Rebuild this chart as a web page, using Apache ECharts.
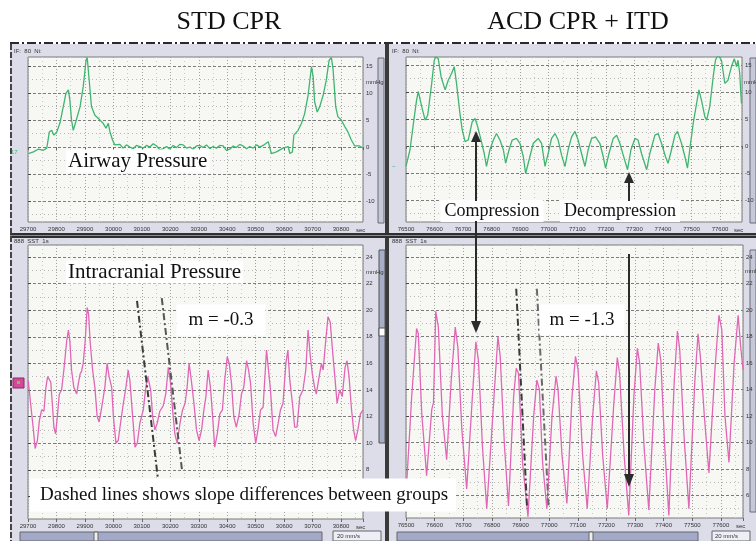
<!DOCTYPE html>
<html><head><meta charset="utf-8">
<script src="https://cdn.jsdelivr.net/npm/echarts@6/dist/echarts.min.js"></script>
<style>html,body{margin:0;padding:0;background:#fff}#c{width:756px;height:541px}</style>
</head><body><div id="c"></div><script>
// ---------- data ----------
const panelTitles = ['STD CPR', 'ACD CPR + ITD'];
const timeLabelsStd = ['29700','29800','29900','30000','30100','30200','30300','30400','30500','30600','30700','30800'];
const timeLabelsAcd = ['76500','76600','76700','76800','76900','77000','77100','77200','77300','77400','77500','77600'];
const airwayTicks = [15,10,5,0,-5,-10];
const airwayMinor = [12.5,7.5,2.5,-2.5,-7.5,-12.5];
const icpTicks = [24,22,20,18,16,14,12,10,8,6];
const icpMinor = [23,21,19,17,15,13,11,9,7,5];

// Airway pressure, STD CPR
const apStdT = [1,19,36,54,66,75,83,91,101,112,124,133,142,147,153,159,168,183,194,204,208,215,223,235,253,264,274,282,288,297,305,
  311,323,334,346,358,370,381,393,405,416,428,440,452,463,475,487,498,510,522,533,545,557,569,580,592,604,615,627,639,650,662,674,686,697,709,721,732,744,756,768,779,791,803,814,826,
  844,855,873,896,914,920,929,934,949,961,972,984,996,1002,1007,1016,1025,1037,1048,1058,1066,1072,1081,1089,1101,1113,1124,1136,1148,1165,1177];
const apStdV = [-1.2,-0.9,-0.4,-0.6,-0.2,2.8,3.1,2.2,2.8,4.4,7.5,9.9,10.6,8.7,5.0,3.1,4.7,7.5,11.2,16.1,16.6,12.4,7.5,5.9,5.0,4.4,3.5,4.4,2.8,1.3,0.4,
  0.2,0.5,-0.2,0.4,0.0,-0.3,0.3,0.1,-0.2,0.3,0.0,0.6,0.2,-0.5,-0.3,0.1,-0.4,0.3,-0.1,0.5,0.4,-0.2,0.0,-0.4,0.2,0.3,-0.1,0.4,-0.3,0.1,-0.2,0.3,0.2,-0.6,-0.4,0.2,-0.1,0.5,0.2,-0.3,0.1,-0.2,0.4,0.0,0.3,
  1.0,-1.2,-0.9,-0.2,0.1,-1.2,-0.9,2.2,3.1,4.4,6.2,9.6,14.9,13.0,8.4,6.5,7.5,9.6,12.4,16.1,16.6,14.3,7.5,5.6,5.0,3.8,2.8,1.3,0.2,0.2,-0.2];

// Airway pressure, ACD CPR + ITD
const apAcdT = [0,14,26,37,43,55,67,76,90,99,104,113,123,137,148,160,169,177,189,197,207,218,232,242,251,263,274,282,294,306,
  317,329,341,349,361,372,387,399,411,419,431,446,463,475,487,498,510,522,533,545,557,568,580,592,603,615,627,638,650,664,
  679,691,699,711,726,738,749,761,776,788,802,813,825,843,854,872,883,895,909,918,930,942,951,965,977,986,994,1006,1018,1026,
  1035,1047,1053,1064,1076,1084,1093,1105,1117,1128,1140,1150,1158,1163,1169,1175];
const apAcdV = [-3.8,-0.7,4.2,8.5,10.1,7.3,4.8,5.7,11.6,15.9,16.5,16.2,12.8,10.4,12.2,13.5,14.7,11.6,6.0,3.0,
  0.8,1.1,4.5,5.1,3.6,1.1,-1.4,-3.8,-0.7,1.1,2.3,1.1,-0.7,-3.2,-0.7,1.1,1.4,0.5,-2.0,-5.1,
  -2.6,0.5,1.4,0.5,-3.8,-1.4,1.4,2.3,1.1,-1.7,-3.8,-0.7,1.7,2.7,1.1,-1.4,-3.8,-0.7,1.4,1.7,
  0.5,-2.0,-4.1,-1.4,1.4,2.0,0.5,-1.7,-4.4,-0.7,1.4,1.1,-1.4,-4.4,-1.4,2.0,2.3,0.5,-2.0,-3.2,
  -0.7,2.0,2.7,0.5,-2.0,-4.1,-0.7,4.2,7.9,10.4,8.5,5.4,4.8,7.3,12.8,15.9,16.9,15.9,11.6,12.2,
  14.7,16.2,14.7,15.9,13.5,7.9];

// Intracranial pressure, STD CPR
const icpStdT = [1,9,19,25,33,40,48,56,63,69,75,80,87,91,97,103,110,118,126,136,142,147,153,161,171,177,183,188,194,201,
  208,213,218,227,235,243,250,259,270,278,285,294,300,309,317,325,335,344,352,358,367,376,384,393,405,414,421,431,438,446,
  454,463,475,484,493,501,508,516,524,534,543,552,559,566,574,583,592,601,610,618,625,633,641,648,656,665,674,683,691,700,
  707,715,723,732,742,750,758,768,775,782,791,800,808,817,826,838,845,852,861,870,879,887,896,906,913,920,929,937,945,955,
  966,976,984,992,999,1007,1013,1023,1031,1037,1046,1054,1062,1069,1078,1086,1095,1104,1114,1121,1128,1136,1144,1151,1159,1168,1177];
const icpStdV = [14.7,13.0,11.0,9.6,10.2,11.7,12.5,12.4,14.2,15.0,14.9,14.6,12.5,11.2,10.7,12.0,13.7,14.0,15.5,17.7,
  18.5,17.7,15.5,14.2,13.7,14.5,15.2,15.4,16.0,17.7,20.2,19.7,17.7,15.5,14.2,12.0,11.6,12.7,14.2,16.0,
  15.0,14.2,12.0,10.0,10.2,11.5,13.0,14.2,15.5,14.7,12.2,9.7,10.0,11.5,12.5,14.2,15.0,14.0,12.0,11.0,
  11.5,12.4,12.8,13.7,15.7,14.5,12.5,10.7,10.0,11.5,12.5,13.0,14.2,16.0,14.7,13.0,11.0,10.2,11.0,12.5,
  13.5,15.5,14.2,12.2,9.7,10.7,12.2,12.5,14.7,16.5,16.0,14.5,12.0,11.2,12.2,13.7,14.2,16.2,15.5,14.5,
  11.5,10.0,11.0,12.5,12.7,17.0,15.5,14.0,11.0,10.5,11.5,12.5,13.0,16.0,17.0,14.7,13.0,11.2,11.2,13.5,
  14.0,15.5,18.5,16.5,15.2,14.2,13.7,15.0,16.0,15.5,17.7,19.5,19.1,17.2,15.0,13.0,14.0,13.5,15.7,16.2,
  15.0,12.7,11.0,10.2,11.0,12.2,12.5];

// Intracranial pressure, ACD CPR + ITD
const icpAcdT = [0,20,37,43,55,72,90,96,104,113,127,142,158,172,181,195,212,232,244,253,267,282,306,321,329,344,358,376,385,393,
  407,426,446,457,466,477,492,510,524,531,545,562,580,592,601,617,633,652,665,673,687,703,726,738,746,762,778,796,808,816,
  832,848,869,881,890,904,918,937,948,956,971,988,1009,1020,1028,1042,1058,1079,1093,1103,1114,1128,1146,1160,1169,1177];
const icpAcdV = [6.0,13.5,18.6,18.2,12.2,7.5,12.5,13.0,19.9,18.7,12.0,8.7,14.7,18.7,17.2,11.0,6.5,13.5,17.6,16.2,
  9.7,5.0,13.0,18.0,16.5,9.7,5.2,13.5,15.6,15.2,8.5,4.4,12.0,14.7,14.0,8.5,5.0,12.0,15.0,14.0,
  9.0,5.4,13.5,16.5,15.5,9.0,5.0,12.0,15.4,14.5,9.0,5.0,13.0,16.4,15.2,9.0,4.5,13.5,17.1,16.0,
  9.5,4.9,14.0,17.5,16.2,9.5,4.5,14.7,18.4,17.0,10.5,5.0,14.7,18.2,16.5,12.0,7.7,15.5,19.6,18.5,
  12.0,8.5,16.0,19.6,17.2,15.5];

// Slope (dashed) lines
const slopeStdAT = [383, 456], slopeStdAV = [20.7, 7.4];
const slopeStdBT = [470, 541], slopeStdBV = [20.9, 8.0];
const slopeAcdAT = [385, 423], slopeAcdAV = [21.6, 5.0];
const slopeAcdBT = [457, 498], slopeAcdBV = [21.6, 5.2];

// ---------- chart ----------
const zip = (a, b) => a.slice(0, Math.min(a.length, b.length)).map((t, i) => [t, b[i]]);
const SERIF = '"Liberation Serif","Times New Roman",serif';
const SANS = '"Liberation Sans",Arial,sans-serif';

function mkGrid(l, t, w, h) {
  return {left: l, top: t, width: w, height: h, show: true, backgroundColor: '#f7f8f4',
    borderColor: '#7a7a7a', borderWidth: 1, containLabel: false, outerBoundsMode: 'none'};
}
function xAx(i, labels) {
  return {type: 'value', gridIndex: i, min: 0, max: 1177, interval: 100,
    axisLine: {show: false},
    axisTick: {show: true, length: 3, lineStyle: {color: '#666'}},
    axisLabel: {fontSize: 6, color: '#333', margin: 4, fontFamily: SANS,
      formatter: v => (v % 100 === 0 && labels[v / 100] !== undefined) ? labels[v / 100] : ''},
    splitLine: {show: true, lineStyle: {color: '#a0a0a0', type: [1, 2], width: 1}},
    minorTick: {show: false, splitNumber: 2},
    minorSplitLine: {show: true, lineStyle: {color: '#c8c8c8', type: [1, 3], width: 1}}};
}
function yMajor(i, min, max, vals) {
  return {type: 'value', gridIndex: i, position: 'right', min: min, max: max,
    axisLine: {show: false},
    axisTick: {show: true, length: 3, customValues: vals, lineStyle: {color: '#444'}},
    axisLabel: {show: true, customValues: vals, fontSize: 6, color: '#333', margin: 3, fontFamily: SANS},
    splitLine: {show: true, lineStyle: {color: '#7c7c7c', type: [3, 2], width: 1}}};
}
function yMinor(i, min, max, vals) {
  return {type: 'value', gridIndex: i, position: 'right', min: min, max: max,
    axisLine: {show: false},
    axisTick: {show: false, customValues: vals},
    axisLabel: {show: false},
    splitLine: {show: true, lineStyle: {color: '#b8b8b8', type: [1, 3], width: 1}}};
}
function wave(xi, yi, t, v, color) {
  return {type: 'line', xAxisIndex: xi, yAxisIndex: yi, data: zip(t, v), symbol: 'none',
    lineStyle: {color: color, width: 1.3}, clip: true, animation: false, z: 3};
}
function slope(xi, yi, t, v, color) {
  return {type: 'line', xAxisIndex: xi, yAxisIndex: yi, data: zip(t, v), symbol: 'none',
    lineStyle: {color: color, width: 2, type: [7, 3, 2, 3]}, clip: true, animation: false, z: 4};
}

const GREEN = '#3fb56f', PINK = '#e066b6';

const txt = (x, y, text, font, extra) => Object.assign({type: 'text', x: x, y: y, z: 100,
  style: Object.assign({text: text, font: font, fill: '#111', align: 'left', verticalAlign: 'middle'}, extra || {})});
const rect = (x, y, w, h, fill, stroke, z) => ({type: 'rect', z: z === undefined ? -10 : z,
  shape: {x: x, y: y, width: w, height: h}, style: {fill: fill, stroke: stroke || null, lineWidth: 1}});
const ln = (x1, y1, x2, y2, stroke, w, dash, z) => ({type: 'line', z: z === undefined ? -9 : z,
  shape: {x1: x1, y1: y1, x2: x2, y2: y2}, style: {stroke: stroke, lineWidth: w, lineDash: dash || null}});
const head = (pts) => ({type: 'polygon', z: 101, shape: {points: pts}, style: {fill: '#2b2b2b'}});
const small = (x, y, text, fill) => ({type: 'text', x: x, y: y, z: 5,
  style: {text: text, font: '6px ' + SANS, fill: fill || '#333', align: 'left', verticalAlign: 'middle'}});

const graphics = [
  // monitor windows
  rect(10, 44, 376, 497, '#dcdde9'),
  rect(389, 44, 367, 497, '#dcdde9'),
  ln(10, 43, 756, 43, '#2a2a2a', 2, [9, 3, 2, 3]),
  ln(11, 44, 11, 541, '#444', 2, [6, 2]),
  rect(385, 44, 4, 497, '#3a3a3a'),
  rect(10, 233, 746, 5, '#2f2f2f'),
  ln(10, 235.5, 756, 235.5, '#8a8a8a', 1),
  // side scrollbars
  rect(378, 58, 6, 165, '#c6c8d8', '#6a6a7a', -8),
  rect(379, 250, 6, 193, '#a9aec8', '#555', -8),
  rect(379, 328, 6, 8, '#ffffff', '#555', -7),
  rect(750, 58, 6, 165, '#c6c8d8', '#6a6a7a', -8),
  rect(750, 250, 6, 262, '#c6c8d8', '#6a6a7a', -8),
  // bottom scrollbars
  rect(20, 532, 302, 9, '#a3a9c9', '#666', -8),
  rect(94, 532, 4, 9, '#eeeeee', '#666', -7),
  rect(333, 531, 48, 10, '#eeeef6', '#666', -8),
  small(337, 536, '20 mm/s'),
  rect(397, 532, 301, 9, '#a3a9c9', '#666', -8),
  rect(589, 532, 4, 9, '#eeeeee', '#666', -7),
  rect(712, 531, 38, 10, '#eeeef6', '#666', -8),
  small(715, 536, '20 mm/s'),
  // panel headers / units
  small(14, 51, 'IF:  80  Ni:'), small(14, 241, '888  SST  1s'),
  small(392, 51, 'IF:  80  Ni:'), small(392, 241, '888  SST  1s'),
  small(366, 82, 'mmHg'), small(744, 82, 'mmHg'), small(366, 272, 'mmHg'), small(745, 271, 'mmHg'),
  small(356, 230, 'sec'), small(734, 230, 'sec'), small(356, 527, 'sec'), small(736, 526, 'sec'),
  small(11, 152, '17', GREEN), small(392, 166, '~', GREEN),
  rect(13, 378, 11, 10, '#d6479a', '#8a2a60', 6),
  rect(17, 381, 3, 3, '#6c6', null, 7),
  // titles
  txt(229, 22, panelTitles[0], '26px ' + SERIF, {align: 'center'}),
  txt(578, 22, panelTitles[1], '26px ' + SERIF, {align: 'center'}),
  // annotations
  txt(66, 161, 'Airway Pressure', '21px ' + SERIF, {backgroundColor: '#fff', padding: [1, 2]}),
  txt(66, 272, 'Intracranial Pressure', '21px ' + SERIF, {backgroundColor: '#fff', padding: [1, 2]}),
  txt(221, 320, 'm = -0.3', '19px ' + SERIF, {align: 'center', backgroundColor: '#fff', padding: [6, 12]}),
  txt(582, 320, 'm = -1.3', '19px ' + SERIF, {align: 'center', backgroundColor: '#fff', padding: [6, 10]}),
  txt(492, 211, 'Compression', '18px ' + SERIF, {align: 'center', backgroundColor: '#fff', padding: [2, 4]}),
  txt(620, 211, 'Decompression', '18px ' + SERIF, {align: 'center', backgroundColor: '#fff', padding: [2, 4]}),
  txt(30, 495, 'Dashed lines shows slope differences between groups', '19px ' + SERIF,
    {backgroundColor: '#fff', padding: [7, 8, 7, 10]}),
  // arrows
  ln(476, 201, 476, 140, '#2b2b2b', 2, null, 100), head([[471, 142], [481, 142], [476, 131]]),
  ln(476, 221, 476, 323, '#2b2b2b', 2, null, 100), head([[471, 321], [481, 321], [476, 333]]),
  ln(629, 201, 629, 181, '#2b2b2b', 2, null, 100), head([[624, 183], [634, 183], [629, 172]]),
  ln(629, 254, 629, 476, '#2b2b2b', 2, null, 100), head([[624, 474], [634, 474], [629, 487]])
];

const option = {
  backgroundColor: '#ffffff',
  animation: false,
  grid: [mkGrid(28, 57, 335, 165), mkGrid(406, 57, 336, 165), mkGrid(28, 245, 335, 274), mkGrid(406, 245, 337, 273)],
  xAxis: [xAx(0, timeLabelsStd), xAx(1, timeLabelsAcd), xAx(2, timeLabelsStd), xAx(3, timeLabelsAcd)],
  yAxis: [
    yMajor(0, -13.9, 16.7, airwayTicks), yMinor(0, -13.9, 16.7, airwayMinor),
    yMajor(1, -14.1, 16.5, airwayTicks), yMinor(1, -14.1, 16.5, airwayMinor),
    yMajor(2, 4.3, 24.9, icpTicks), yMinor(2, 4.3, 24.9, icpMinor),
    yMajor(3, 4.3, 24.9, icpTicks), yMinor(3, 4.3, 24.9, icpMinor)
  ],
  series: [
    wave(0, 0, apStdT, apStdV, GREEN),
    wave(1, 2, apAcdT, apAcdV, GREEN),
    wave(2, 4, icpStdT, icpStdV, PINK),
    wave(3, 6, icpAcdT, icpAcdV, PINK),
    slope(2, 4, slopeStdAT, slopeStdAV, '#3a3a3a'),
    slope(2, 4, slopeStdBT, slopeStdBV, '#555555'),
    slope(3, 6, slopeAcdAT, slopeAcdAV, '#3a3a3a'),
    slope(3, 6, slopeAcdBT, slopeAcdBV, '#6a6a6a')
  ],
  graphic: {elements: graphics}
};
const chart = echarts.init(document.getElementById('c'), null, {renderer: 'canvas'});
chart.setOption(option);
</script></body></html>
